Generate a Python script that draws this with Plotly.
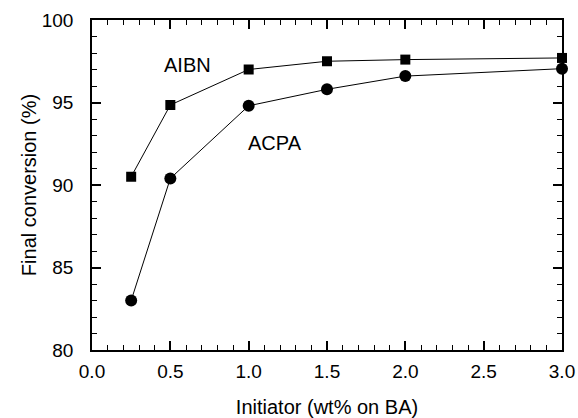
import plotly.graph_objects as go

x_vals = [0.25, 0.5, 1.0, 1.5, 2.0, 3.0]
aibn = [90.5, 94.85, 97.0, 97.5, 97.6, 97.7]
acpa = [83.0, 90.4, 94.8, 95.8, 96.6, 97.05]

x_major = [0.0, 0.5, 1.0, 1.5, 2.0, 2.5, 3.0]
y_major = [80, 85, 90, 95, 100]

font_family = "Liberation Sans, Arial, sans-serif"

fig = go.Figure()
fig.add_trace(go.Scatter(
    x=x_vals, y=aibn, mode="lines+markers", name="AIBN",
    line=dict(color="black", width=1),
    marker=dict(symbol="square", size=10, color="black"),
    cliponaxis=False,
))
fig.add_trace(go.Scatter(
    x=x_vals, y=acpa, mode="lines+markers", name="ACPA",
    line=dict(color="black", width=1),
    marker=dict(symbol="circle", size=12, color="black"),
    cliponaxis=False,
))

fig.add_annotation(x=0.61, y=97.3, text="AIBN", showarrow=False,
                   font=dict(size=20, color="black", family=font_family))
fig.add_annotation(x=1.17, y=92.55, text="ACPA", showarrow=False,
                   font=dict(size=20, color="black", family=font_family))

fig.update_xaxes(
    range=[0, 3.0], tickmode="array", tickvals=x_major, tickformat=".1f",
    showgrid=False, zeroline=False, automargin=False,
    showline=True, linecolor="black", linewidth=1.5, mirror="allticks",
    ticks="inside", ticklen=9, tickwidth=1.5, tickcolor="black",
    minor=dict(dtick=0.1, tick0=0, ticks="inside", ticklen=5, tickwidth=1.2,
               tickcolor="black", showgrid=False),
    tickfont=dict(size=19, color="black", family=font_family),
    ticklabelstandoff=3,
    title=dict(text="Initiator (wt% on BA)", font=dict(size=20, color="black", family=font_family), standoff=24),
)
fig.update_yaxes(
    range=[80, 100], tickmode="array", tickvals=y_major,
    showgrid=False, zeroline=False, automargin=False,
    showline=True, linecolor="black", linewidth=1.5, mirror="allticks",
    ticks="inside", ticklen=9, tickwidth=1.5, tickcolor="black",
    minor=dict(dtick=1, tick0=80, ticks="inside", ticklen=5, tickwidth=1.2,
               tickcolor="black", showgrid=False),
    tickfont=dict(size=19, color="black", family=font_family),
    ticklabelstandoff=13,
    title=dict(text="Final conversion (%)", font=dict(size=20, color="black", family=font_family), standoff=0),
)

fig.update_layout(
    width=578, height=418,
    margin=dict(l=92, r=16, t=20, b=68),
    plot_bgcolor="white", paper_bgcolor="white",
    showlegend=False,
    font=dict(family=font_family, color="black"),
)

fig.write_html("out.html", config={"displayModeBar": False},
               post_script="document.body.style.margin='0';")
